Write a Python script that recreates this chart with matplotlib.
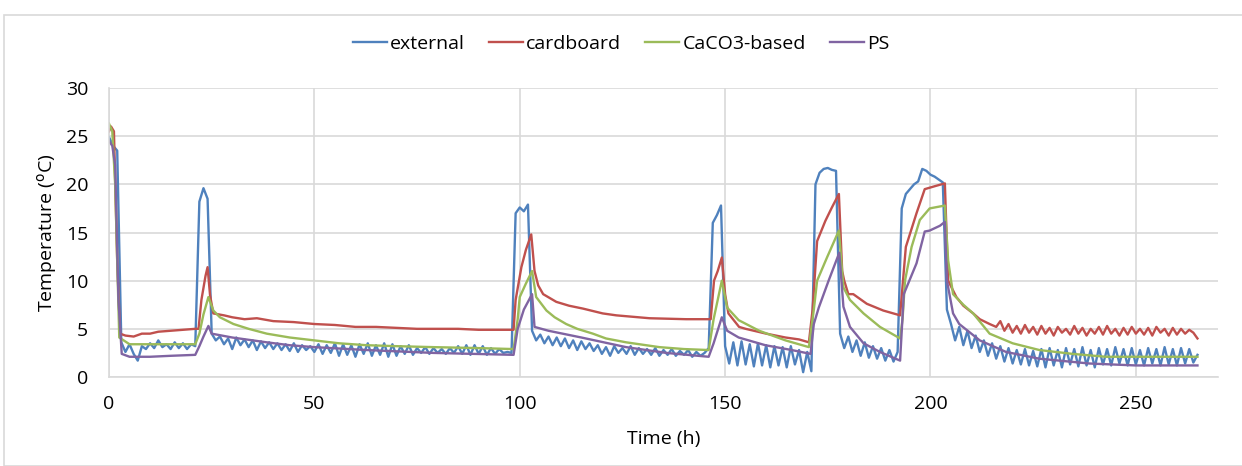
import numpy as np
import matplotlib
matplotlib.use("Agg")
import matplotlib.pyplot as plt
from matplotlib.patches import Rectangle

# ---------------- data ----------------
ext_t = list(range(0, 266))
ext_v = [24.9, 24.0, 23.5, 3.6, 2.6, 3.4, 2.4, 1.7, 3.2, 2.9,
         3.5, 3.0, 3.8, 3.1, 3.4, 2.9, 3.6, 3.0, 3.5, 2.9,
         3.4, 3.2, 18.2, 19.6, 18.5, 4.5, 3.8, 4.2, 3.4, 4.0,
         2.9, 4.1, 3.3, 3.9, 3.1, 3.8, 2.8, 3.7, 3.0, 3.6,
         2.9, 3.5, 2.8, 3.4, 2.7, 3.5, 2.6, 3.3, 2.8, 3.2,
         2.6, 3.4, 2.4, 3.3, 2.5, 3.5, 2.2, 3.4, 2.3, 3.3,
         2.1, 3.4, 2.4, 3.5, 2.2, 3.3, 2.3, 3.5, 2.1, 3.4,
         2.2, 3.2, 2.4, 3.3, 2.3, 3.0, 2.5, 3.1, 2.4, 3.0,
         2.5, 2.9, 2.4, 3.0, 2.5, 3.2, 2.4, 3.3, 2.3, 3.3,
         2.4, 3.2, 2.3, 3.0, 2.4, 2.9, 2.5, 2.6, 2.5, 17.0,
         17.6, 17.2, 17.9, 4.8, 3.8, 4.4, 3.5, 4.2, 3.3, 4.1,
         3.2, 4.0, 3.0, 3.8, 2.8, 3.7, 2.9, 3.5, 2.7, 3.3,
         2.4, 3.1, 2.2, 3.2, 2.5, 3.0, 2.4, 3.2, 2.3, 3.0,
         2.4, 2.9, 2.3, 3.0, 2.2, 2.8, 2.3, 2.9, 2.2, 2.7,
         2.3, 2.8, 2.1, 2.6, 2.2, 2.5, 3.0, 16.0, 16.8, 17.8,
         3.2, 1.4, 3.6, 1.2, 3.7, 1.3, 3.4, 1.1, 3.5, 1.2,
         3.3, 1.0, 3.2, 1.2, 3.1, 1.0, 3.2, 1.3, 2.8, 0.5,
         2.6, 0.6, 20.0, 21.2, 21.6, 21.7, 21.5, 21.4, 4.5, 3.0,
         4.2, 2.6, 3.8, 2.2, 3.6, 2.0, 3.2, 1.9, 3.0, 1.7,
         2.8, 1.6, 2.6, 17.5, 19.0, 19.5, 20.0, 20.3, 21.6, 21.4,
         21.0, 20.8, 20.5, 20.2, 7.0, 5.5, 3.8, 5.2, 3.3, 4.8,
         3.0, 4.3, 2.6, 3.8, 2.2, 3.5, 1.9, 3.2, 1.6, 3.0,
         1.4, 2.8, 1.3, 2.9, 1.2, 2.7, 1.1, 2.9, 1.0, 3.0,
         1.2, 2.8, 1.0, 3.0, 1.3, 2.9, 1.1, 3.1, 1.2, 2.8,
         1.0, 3.0, 1.3, 2.9, 1.2, 3.1, 1.4, 2.9, 1.2, 3.0,
         1.3, 2.8, 1.2, 3.0, 1.4, 2.9, 1.2, 3.1, 1.3, 2.9,
         1.2, 3.0, 1.4, 2.9, 1.5, 2.3]

card_t = [0, 0.5, 1.2, 2.0, 2.7, 4, 6, 8, 10, 12, 15, 18, 21, 21.8, 22.5, 23.5, 24.0,
          24.6, 25.4, 28, 30, 33, 36, 40, 45, 50, 55, 60, 65, 70, 75, 80, 85, 90, 95,
          98.5, 99.0, 100.4, 101.5, 102.8, 103.6, 104.5, 105.7, 108.9, 112, 115.4,
          120.2, 123.5, 131.6, 140.5, 146.5, 147.3, 148.2, 149.2, 150, 150.8, 153.4,
          155, 158, 160, 164.7, 168, 170.4, 171.3, 172.4, 174.4, 176, 177.7, 178.5,
          179, 180, 181.2, 184.5, 188.5, 192.6, 193.3, 194, 196.6, 198.6, 201, 203.5,
          204.3, 206.3, 208, 210.4, 212, 214.4,
          216, 217, 218, 219, 220, 221, 222, 223, 224, 225, 226, 227, 228, 229, 230,
          231, 232, 233, 234, 235, 236, 237, 238, 239, 240, 241, 242, 243, 244, 245,
          246, 247, 248, 249, 250, 251, 252, 253, 254, 255, 256, 257, 258, 259, 260,
          261, 262, 263, 264, 265]
card_v = [25.5, 26.0, 25.5, 12.0, 4.5, 4.3, 4.2, 4.5, 4.5, 4.7, 4.8, 4.9, 5.0, 5.0, 8.0,
          10.5, 11.4, 8.5, 6.6, 6.4, 6.2, 6.0, 6.1, 5.8, 5.7, 5.5, 5.4, 5.2, 5.2, 5.1,
          5.0, 5.0, 5.0, 4.9, 4.9, 4.9, 8.0, 11.4, 13.2, 14.8, 11.0, 9.5, 8.6, 7.8, 7.4,
          7.1, 6.6, 6.4, 6.1, 6.0, 6.0, 10.0, 11.0, 12.4, 8.6, 6.6, 5.2, 5.0, 4.7, 4.5,
          4.1, 3.9, 3.6, 7.0, 14.1, 16.2, 17.6, 19.0, 11.0, 10.0, 8.6, 8.6, 7.6, 6.9,
          6.4, 10.0, 13.5, 17.0, 19.5, 19.8, 20.1, 10.0, 8.3, 7.4, 6.6, 6.0, 5.5,
          5.2, 5.8, 4.8, 5.5, 4.6, 5.3, 4.5, 5.4, 4.6, 5.2, 4.4, 5.3, 4.5, 5.1, 4.3,
          5.2, 4.6, 5.0, 4.4, 5.3, 4.5, 5.1, 4.3, 5.0, 4.5, 5.2, 4.4, 5.3, 4.5, 5.0,
          4.3, 5.1, 4.4, 5.2, 4.5, 5.0, 4.4, 5.1, 4.3, 5.2, 4.6, 5.0, 4.3, 5.1, 4.4,
          5.0, 4.5, 4.9, 4.6, 4.0]

caco_t = [0, 0.8, 1.5, 2.5, 5, 10, 15, 21, 22, 23, 24.2, 25.4, 27, 30.3, 34, 38.4, 44,
          50, 56, 62.7, 70, 79, 90, 98.5, 99.5, 100.0, 101.5, 103, 104, 106.5, 108.5,
          111.3, 114, 117.8, 121, 125.9, 134, 140, 146, 147.2, 149.2, 150.5, 153.3,
          158.3, 164.7, 170.4, 171.6, 172.4, 174.8, 177.7, 178.8, 180.4, 183.7, 187.7,
          192.6, 193.2, 193.8, 195.4, 197.4, 199.8, 203.5, 204.3, 205.5, 208, 210.4,
          214.4, 220, 226.5, 234.6, 242.7, 250, 265]
caco_v = [26.3, 25.5, 20.0, 4.1, 3.4, 3.4, 3.4, 3.4, 4.5, 6.5, 8.3, 6.9, 6.2, 5.5, 5.0,
          4.5, 4.1, 3.8, 3.5, 3.3, 3.2, 3.1, 3.0, 2.9, 6.0, 8.3, 9.7, 11.0, 8.3, 6.9,
          6.2, 5.5, 5.0, 4.5, 4.0, 3.6, 3.1, 2.9, 2.8, 6.0, 10.0, 7.2, 5.9, 4.8, 3.8,
          3.1, 7.0, 10.0, 12.4, 15.2, 9.3, 8.0, 6.6, 5.2, 4.0, 6.0, 10.0, 13.5, 16.3,
          17.5, 17.8, 12.1, 8.6, 7.5, 6.6, 4.5, 3.5, 2.8, 2.4, 2.1, 2.1, 2.1]

ps_t = [0, 0.8, 1.5, 2.3, 3.1, 5, 10, 15, 21, 22, 23, 24.2, 25, 30, 38.4, 44, 50, 62.7,
        79, 98.5, 99.5, 101, 103, 103.6, 107, 115, 125.9, 135.7, 146, 147.2, 149.2,
        150.5, 153.3, 159.8, 166.2, 170.8, 171.6, 172.8, 175.2, 177.8, 178.8, 180.4,
        183.7, 187.7, 192.6, 193.5, 196.6, 198.6, 199.8, 202.3, 203.5, 204.0, 205.5,
        207, 212, 218.4, 226.5, 238.7, 250, 265]
ps_v = [24.5, 24.0, 22.0, 8.0, 2.4, 2.1, 2.1, 2.2, 2.3, 3.2, 4.2, 5.3, 4.5, 4.1, 3.6,
        3.3, 3.1, 2.8, 2.5, 2.3, 5.0, 7.0, 8.6, 5.2, 4.8, 4.1, 3.1, 2.5, 2.1, 3.5, 6.2,
        4.8, 4.1, 3.3, 2.8, 2.4, 5.5, 7.2, 10.0, 12.9, 7.3, 5.2, 3.5, 2.6, 1.7, 8.6,
        11.8, 15.1, 15.2, 15.7, 16.1, 10.0, 6.6, 5.5, 3.8, 2.6, 1.9, 1.4, 1.2, 1.2]

series_names = ["external", "cardboard", "CaCO3-based", "PS"]
x_ticks = [0, 50, 100, 150, 200, 250]
y_ticks = [0, 5, 10, 15, 20, 25, 30]

# ---------------- plot ----------------
plt.rcParams['font.family'] = ["Open Sans", "DejaVu Sans"]
FS = 14

W, H = 1242, 466
fig = plt.figure(figsize=(W / 100, H / 100), dpi=100)
fig.patches.append(Rectangle((4 / W, 0), 1.2, 1 - 15 / H, transform=fig.transFigure,
                             fill=False, edgecolor="#d9d9d9", linewidth=1.2))

ax = fig.add_axes([109 / W, 1 - 377 / H, (1218 - 109) / W, (377 - 88) / H])

colors = ["#4F81BD", "#C0504D", "#9BBB59", "#8064A2"]
data = [(ext_t, ext_v), (card_t, card_v), (caco_t, caco_v), (ps_t, ps_v)]
for (t, v), c, name in zip(data, colors, series_names):
    ax.plot(t, v, color=c, lw=1.7, label=name, solid_joinstyle="round")

ax.set_xlim(0, 270)
ax.set_ylim(0, 30)
ax.set_xticks(x_ticks)
ax.set_yticks(y_ticks)
ax.grid(True, color="#d9d9d9", lw=1.2)
ax.set_axisbelow(True)
for s in ["top", "right"]:
    ax.spines[s].set_visible(False)
for s in ["left", "bottom"]:
    ax.spines[s].set_color("#d9d9d9")
    ax.spines[s].set_linewidth(1.2)
ax.tick_params(axis="y", length=0, labelsize=FS, colors="black", pad=15)
ax.tick_params(axis="x", length=0, labelsize=FS, colors="black", pad=13)

ax.set_xlabel("Time (h)", fontsize=FS, labelpad=12)
ax.set_ylabel(r"Temperature ($^{\mathrm{o}}$C)", fontsize=FS, labelpad=5)

fig.legend(loc="center", bbox_to_anchor=(0.5, 1 - 44 / H), ncol=4, frameon=False,
           fontsize=FS, handlelength=1.75, handletextpad=0.15, columnspacing=1.25)

fig.savefig("out.png", dpi=100, facecolor="white")
